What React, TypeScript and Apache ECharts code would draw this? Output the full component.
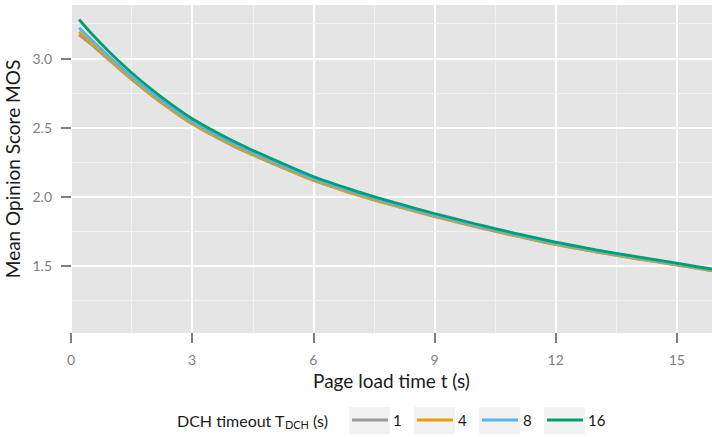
import React, { useEffect, useRef } from "react";
import * as echarts from "echarts";

// Page load time t (s)
const loadTime = [0.2, 0.5, 1.0, 1.5, 2.0, 2.5, 3.0, 4.0, 4.5, 5.0, 6.0, 7.0, 7.5, 8.0, 9.0, 10.0, 10.5, 11.0, 12.0, 13.0, 14.0, 15.0, 15.9];
// MOS for each DCH timeout
const mosT1 = [3.17, 3.101, 2.973, 2.848, 2.731, 2.624, 2.526, 2.369, 2.302, 2.239, 2.117, 2.02, 1.976, 1.935, 1.857, 1.784, 1.75, 1.717, 1.654, 1.601, 1.552, 1.506, 1.464];
const mosT4 = [3.19, 3.113, 2.981, 2.854, 2.736, 2.629, 2.531, 2.374, 2.307, 2.244, 2.121, 2.023, 1.979, 1.938, 1.86, 1.787, 1.753, 1.719, 1.656, 1.603, 1.554, 1.508, 1.466];
const mosT8 = [3.22, 3.136, 2.998, 2.869, 2.75, 2.642, 2.544, 2.386, 2.319, 2.255, 2.132, 2.033, 1.989, 1.947, 1.868, 1.795, 1.76, 1.727, 1.663, 1.609, 1.56, 1.513, 1.471];
const mosT16 = [3.28, 3.181, 3.031, 2.896, 2.774, 2.664, 2.564, 2.404, 2.336, 2.271, 2.146, 2.046, 2.001, 1.959, 1.879, 1.805, 1.77, 1.736, 1.672, 1.617, 1.567, 1.52, 1.477];

const timeoutLabels = ["1", "4", "8", "16"];
const xTicks = [0, 3, 6, 9, 12, 15];
const yMajorTicks = [1.5, 2.0, 2.5, 3.0];
const yMinorLines = [1.25, 1.75, 2.25, 2.75, 3.25];

const COLORS = ["#999999", "#E69F00", "#56B4E9", "#009E73"];
const FONT = "Lato, 'Noto Sans', sans-serif";
const TICK_GREY = "#7F7F7F";
const TEXT_DARK = "#1A1A1A";

export default function App() {
  const ref = useRef<HTMLDivElement>(null);

  useEffect(() => {
    if (!ref.current) return;
    const chart = echarts.init(ref.current, undefined, { renderer: "svg" });
    const seriesValues = [mosT1, mosT4, mosT8, mosT16];

    const lineSeries = seriesValues.map((vals, i) => ({
      name: timeoutLabels[i],
      type: "line",
      data: loadTime.map((t, j) => [t, vals[j]]),
      symbol: "none",
      smooth: 0.3,
      z: 3 + i,
      lineStyle: { color: COLORS[i], width: 2.8 },
      itemStyle: { color: COLORS[i] },
    }));

    const gridSeries = {
      name: "_grid",
      type: "line",
      data: [],
      silent: true,
      markLine: {
        silent: true,
        symbol: "none",
        z: 1,
        label: { show: false },
        emphasis: { disabled: true },
        data: [
          ...yMinorLines.map((v) => ({ yAxis: v, lineStyle: { color: "#F2F2F2", width: 1, type: "solid" } })),
          ...yMajorTicks.map((v) => ({ yAxis: v, lineStyle: { color: "#FFFFFF", width: 2, type: "solid" } })),
        ],
      },
    };

    const legendLeft0 = 352;
    const legendStep = 65;

    const option: any = {
      animation: false,
      grid: {
        left: 71,
        right: 0,
        top: 5,
        bottom: 104,
        show: true,
        backgroundColor: "#E5E5E5",
        borderWidth: 0,
        containLabel: false,
        outerBoundsMode: "none",
      },
      xAxis: {
        type: "value",
        min: 0,
        max: 15.87,
        interval: 3,
        name: "Page load time t (s)",
        nameLocation: "middle",
        nameGap: 37,
        nameTextStyle: { fontFamily: FONT, fontSize: 19, color: TEXT_DARK },
        axisLine: { show: false },
        axisTick: {
          show: true,
          length: 10,
          customValues: xTicks,
          lineStyle: { color: TICK_GREY, width: 2 },
        },
        axisLabel: {
          customValues: xTicks,
          margin: 19,
          fontFamily: FONT,
          fontSize: 14,
          color: TICK_GREY,
        },
        splitLine: { show: true, lineStyle: { color: "#FFFFFF", width: 2 } },
        minorTick: { show: false, splitNumber: 2 },
        minorSplitLine: { show: true, lineStyle: { color: "#F2F2F2", width: 1 } },
      },
      yAxis: {
        type: "value",
        min: 1.016,
        max: 3.385,
        name: "Mean Opinion Score MOS",
        nameLocation: "middle",
        nameGap: 46,
        nameTextStyle: { fontFamily: FONT, fontSize: 19, color: TEXT_DARK },
        axisLine: { show: false },
        axisTick: {
          show: true,
          length: 10,
          customValues: yMajorTicks,
          lineStyle: { color: TICK_GREY, width: 2 },
        },
        axisLabel: {
          customValues: yMajorTicks,
          margin: 19,
          fontFamily: FONT,
          fontSize: 14,
          color: TICK_GREY,
          formatter: (v: number) => v.toFixed(1),
        },
        splitLine: { show: false },
      },
      legend: timeoutLabels.map((name, i) => ({
        data: [name],
        left: legendLeft0 + legendStep * i,
        top: 412,
        padding: 0,
        icon: "rect",
        itemWidth: 36,
        itemHeight: 3,
        selectedMode: false,
        textStyle: { fontFamily: FONT, fontSize: 15, color: TEXT_DARK, lineHeight: 16 },
      })),
      graphic: [
        ...timeoutLabels.map((_, i) => ({
          type: "rect",
          shape: { x: 349 + legendStep * i, y: 407, width: 41, height: 27 },
          style: { fill: "#F2F2F2" },
          silent: true,
          z: 0,
        })),
        {
          type: "text",
          x: 177,
          y: 420,
          silent: true,
          style: {
            text: "DCH timeout T{sub|DCH}{n| (s)}",
            fontFamily: FONT,
            fontSize: 16,
            fill: TEXT_DARK,
            verticalAlign: "middle",
            align: "left",
            rich: {
              sub: { fontFamily: FONT, fontSize: 11, fill: TEXT_DARK, padding: [8, 0, 0, 0] },
              n: { fontFamily: FONT, fontSize: 16, fill: TEXT_DARK },
            },
          },
        },
      ],
      series: [gridSeries, ...lineSeries],
    };

    chart.setOption(option);
    return () => chart.dispose();
  }, []);

  return (
    <div
      ref={ref}
      style={{ position: "fixed", left: 0, top: 0, width: 712, height: 437, background: "#FFFFFF" }}
    />
  );
}
